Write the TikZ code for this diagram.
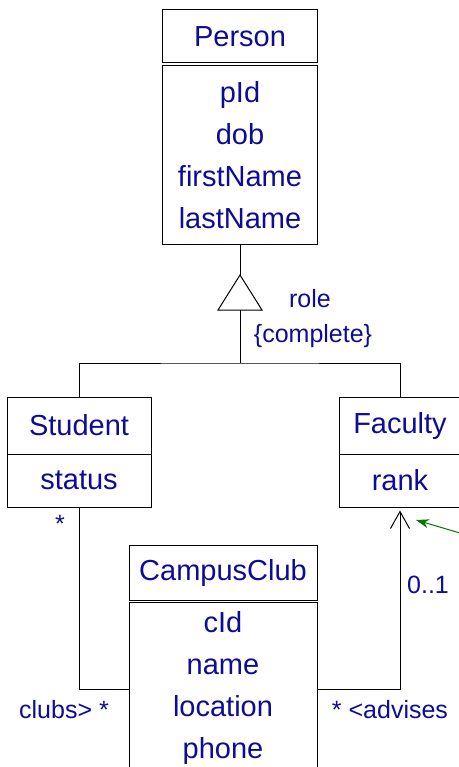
\documentclass[tikz,border=0pt]{standalone}
\usepackage{fontspec}
\setmainfont{Liberation Sans}
\usepackage{tikz}
\usetikzlibrary{arrows.meta}

\definecolor{umlblue}{RGB}{12,12,150}
\definecolor{notegreen}{RGB}{0,120,0}

\begin{document}
\begin{tikzpicture}[x=1pt,y=-1pt,line width=1pt]

        \useasboundingbox (0,0) rectangle (458,767);

        \begin{scope}[every node/.style={draw, rectangle, inner sep=0pt, text=umlblue, align=center,
                      font=\fontsize{29}{42}\selectfont}]
          \node[minimum width=155pt, minimum height=53pt]  (personH)  at (240,36.5)   {Person};
          \node[minimum width=155pt, minimum height=178pt] (personA)  at (240,155)    {pId\\dob\\firstName\\lastName};
          \node[minimum width=144pt, minimum height=57pt]  (studentH) at (79,425.5)   {Student};
          \node[minimum width=144pt, minimum height=53pt]  (studentA) at (79,480.5)   {status};
          \node[minimum width=122pt, minimum height=57pt]  (facultyH) at (400,425.5)  {Faculty};
          \node[minimum width=122pt, minimum height=53pt]  (facultyA) at (400,480.5)  {rank};
          \node[minimum width=188pt, minimum height=55pt]  (clubH)    at (223,572.5)  {CampusClub};
          \node[minimum width=188pt, minimum height=172pt] (clubA)    at (223,688)    {cId\\name\\location\\phone};
        \end{scope}

        % generalization
        \coordinate (genTop)  at (240,275);
        \coordinate (genBase) at (240,310);
        \coordinate (split)   at (240,363);
        \draw (genBase) ++(-22,0) -- (genTop) -- ++(22,35) -- cycle;
        \draw (personA.south) -- (genTop);
        \draw (genBase) -- (split);
        \draw (studentH.north) |- (split) -| (facultyH.north);

        % associations
        \draw (studentA.south) |- ([yshift=-1pt]clubA.west);
        \draw[-{Straight Barb[length=17pt,width=19pt]}, shorten >=3pt] ([yshift=-1pt]clubA.east) -| (facultyA.south);

        \coordinate (noteEnd) at (470,536);
        \draw[notegreen, -{Stealth[length=13pt,width=9pt]}] (noteEnd) -- (416,520);

        \begin{scope}[every node/.style={text=umlblue, inner sep=0pt, font=\fontsize{25}{30}\selectfont}]
          \node (role)     at (310,299) {role};
          \node (complete) at (313,336) {\{complete\}};
          \node (stuMult)  at (60,524)  {*};
          \node (clubsLbl) at (64,710)  {clubs> *};
          \node (facMult)  at (428,585) {0..1};
          \node (advLbl)   at (390,710) {* <advises};
        \end{scope}

      \end{tikzpicture}
\end{document}
